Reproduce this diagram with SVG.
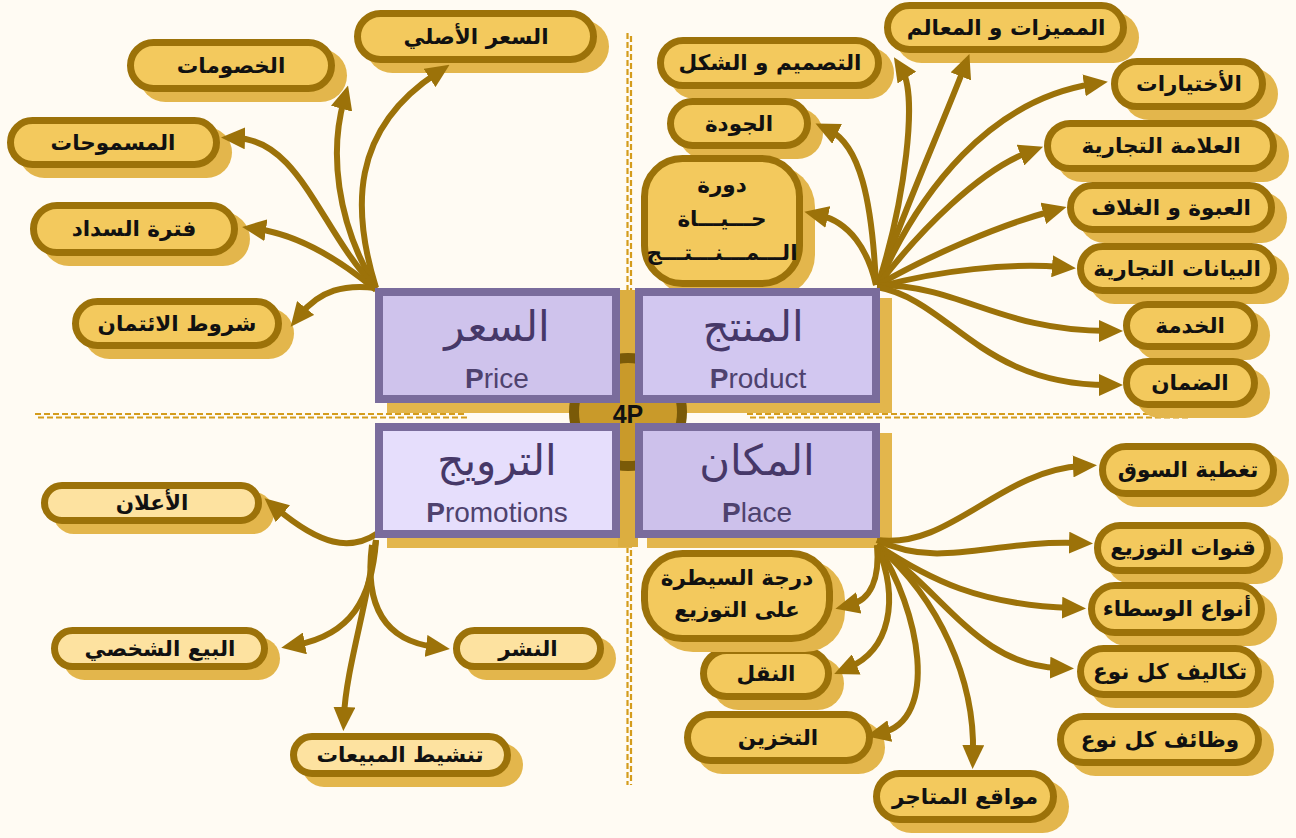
<svg xmlns="http://www.w3.org/2000/svg" width="1296" height="838" viewBox="0 0 1296 838">
<defs>
<style>
.bg{fill:#fffbf3}
.dash{fill:none;stroke:#d49c1c;stroke-width:2.2;stroke-dasharray:6 3}
.sh{fill:#e3b64c}
.pill{fill:#f3c95d;stroke:#9c7209;stroke-width:7}
.pill2{fill:#fde2a0;stroke:#9c7209;stroke-width:7}
.lbl{font-family:"DejaVu Sans",sans-serif;font-weight:bold;font-size:21.5px;fill:#111;text-anchor:middle}
.con{fill:none;stroke:#9c7209;stroke-width:6;marker-end:url(#ah)}
.box{stroke:#7a6c9c;stroke-width:8}
.ar{font-family:"DejaVu Sans",sans-serif;font-size:42px;fill:#463868;text-anchor:middle}
.en{font-family:"Liberation Sans",Arial,sans-serif;font-size:28px;fill:#4e426e;text-anchor:middle}
.b{font-weight:bold}
</style>
<marker id="ah" viewBox="0 0 24 22" refX="9" refY="11" markerWidth="24" markerHeight="22" markerUnits="userSpaceOnUse" orient="auto">
<path d="M0,0 L24,11 L0,22 Z" fill="#9c7209"/>
</marker>
</defs>
<rect class="bg" x="0" y="0" width="1296" height="838"/>

<g id="guides">
<line class="dash" x1="627.5" y1="33" x2="627.5" y2="290"/>
<line class="dash" x1="631" y1="36" x2="631" y2="290"/>
<line class="dash" x1="627.5" y1="538" x2="627.5" y2="785"/>
<line class="dash" x1="631" y1="541" x2="631" y2="785"/>
<line class="dash" x1="35" y1="414" x2="467" y2="414"/>
<line class="dash" x1="38" y1="417.5" x2="467" y2="417.5"/>
<line class="dash" x1="747" y1="414" x2="1185" y2="414"/>
<line class="dash" x1="750" y1="417.5" x2="1188" y2="417.5"/>
</g>

<g id="center">
<rect class="sh" x="387" y="298" width="245" height="115"/>
<rect class="sh" x="647" y="298" width="245" height="115"/>
<rect class="sh" x="387" y="433" width="245" height="115"/>
<rect class="sh" x="647" y="433" width="245" height="115"/>
<rect x="618" y="290" width="20" height="257" fill="#dcae40"/>
<circle cx="628" cy="412" r="54" fill="#c99a2a" stroke="#7a5a08" stroke-width="10"/>
<text x="628" y="423" font-family="Liberation Sans, Arial, sans-serif" font-weight="bold" font-size="25" fill="#111" text-anchor="middle">4P</text>
</g>

<g id="n-price-original"><rect class="sh" x="366" y="20" width="243" height="53" rx="26.5"/><rect class="pill" x="357.5" y="13.5" width="236" height="46" rx="23"/><text class="lbl" x="476" y="44">السعر الأصلي</text></g>
<g id="n-discounts"><rect class="sh" x="139" y="49" width="208" height="53" rx="26.5"/><rect class="pill" x="130.5" y="42.5" width="201" height="46" rx="23"/><text class="lbl" x="231" y="73">الخصومات</text></g>
<g id="n-allowances"><rect class="sh" x="19" y="127" width="213" height="51" rx="25.5"/><rect class="pill" x="10.5" y="120.5" width="206" height="44" rx="22"/><text class="lbl" x="113" y="150">المسموحات</text></g>
<g id="n-payment-period"><rect class="sh" x="42" y="212" width="208" height="54" rx="27"/><rect class="pill" x="33.5" y="205.5" width="201" height="47" rx="23.5"/><text class="lbl" x="134" y="236">فترة السداد</text></g>
<g id="n-credit-terms"><rect class="sh" x="84" y="308" width="210" height="51" rx="25.5"/><rect class="pill" x="75.5" y="301.5" width="203" height="44" rx="22"/><text class="lbl" x="177" y="331">شروط الائتمان</text></g>

<g id="n-features"><rect class="sh" x="896" y="12" width="243" height="51" rx="25.5"/><rect class="pill" x="887.5" y="5.5" width="236" height="44" rx="22"/><text class="lbl" x="1006" y="35">المميزات و المعالم</text></g>
<g id="n-design"><rect class="sh" x="669" y="47" width="225" height="52" rx="26"/><rect class="pill" x="660.5" y="40.5" width="218" height="45" rx="22.5"/><text class="lbl" x="770" y="70">التصميم و الشكل</text></g>
<g id="n-options"><rect class="sh" x="1123" y="68" width="155" height="52" rx="26"/><rect class="pill" x="1114.5" y="61.5" width="148" height="45" rx="22.5"/><text class="lbl" x="1189" y="91">الأختيارات</text></g>
<g id="n-quality"><rect class="sh" x="679" y="108" width="144" height="51" rx="25.5"/><rect class="pill" x="670.5" y="101.5" width="137" height="44" rx="22"/><text class="lbl" x="739" y="131">الجودة</text></g>
<g id="n-brand"><rect class="sh" x="1056" y="130" width="233" height="52" rx="26"/><rect class="pill" x="1047.5" y="123.5" width="226" height="45" rx="22.5"/><text class="lbl" x="1161" y="153">العلامة التجارية</text></g>
<g id="n-lifecycle"><rect class="sh" x="653" y="165" width="162" height="132" rx="42"/><rect class="pill" x="644.5" y="158.5" width="155" height="125" rx="38"/><text class="lbl" x="722" y="192">دورة</text><text class="lbl" x="722" y="226">حـــيـــاة</text><text class="lbl" x="722" y="260">الـــمـــنـــتـــج</text></g>
<g id="n-packaging"><rect class="sh" x="1079" y="192" width="208" height="51" rx="25.5"/><rect class="pill" x="1070.5" y="185.5" width="201" height="44" rx="22"/><text class="lbl" x="1171" y="215">العبوة و الغلاف</text></g>
<g id="n-labeling"><rect class="sh" x="1089" y="253" width="200" height="51" rx="25.5"/><rect class="pill" x="1080.5" y="246.5" width="193" height="44" rx="22"/><text class="lbl" x="1177" y="276">البيانات التجارية</text></g>
<g id="n-service"><rect class="sh" x="1135" y="311" width="135" height="49" rx="24.5"/><rect class="pill" x="1126.5" y="304.5" width="128" height="42" rx="21"/><text class="lbl" x="1190" y="333">الخدمة</text></g>
<g id="n-warranty"><rect class="sh" x="1135" y="368" width="135" height="50" rx="25"/><rect class="pill" x="1126.5" y="361.5" width="128" height="43" rx="21.5"/><text class="lbl" x="1190" y="390">الضمان</text></g>

<g id="n-advertising"><rect class="sh" x="53" y="492" width="221" height="42" rx="21"/><rect class="pill2" x="44.5" y="485.5" width="214" height="35" rx="17.5"/><text class="lbl" x="152" y="510">الأعلان</text></g>
<g id="n-personal-selling"><rect class="sh" x="63" y="637" width="217" height="43" rx="21.5"/><rect class="pill2" x="54.5" y="630.5" width="210" height="36" rx="18"/><text class="lbl" x="160" y="656">البيع الشخصي</text></g>
<g id="n-publicity"><rect class="sh" x="465" y="637" width="151" height="43" rx="21.5"/><rect class="pill2" x="456.5" y="630.5" width="144" height="36" rx="18"/><text class="lbl" x="528" y="656">النشر</text></g>
<g id="n-sales-promotion"><rect class="sh" x="302" y="743" width="221" height="44" rx="22"/><rect class="pill2" x="293.5" y="736.5" width="214" height="37" rx="18.5"/><text class="lbl" x="400" y="762">تنشيط المبيعات</text></g>

<g id="n-coverage"><rect class="sh" x="1111" y="453" width="178" height="54" rx="27"/><rect class="pill" x="1102.5" y="446.5" width="171" height="47" rx="23.5"/><text class="lbl" x="1188" y="477">تغطية السوق</text></g>
<g id="n-channels"><rect class="sh" x="1106" y="532" width="177" height="52" rx="26"/><rect class="pill" x="1097.5" y="525.5" width="170" height="45" rx="22.5"/><text class="lbl" x="1183" y="555">قنوات التوزيع</text></g>
<g id="n-intermediaries"><rect class="sh" x="1100" y="592" width="177" height="54" rx="27"/><rect class="pill" x="1091.5" y="585.5" width="170" height="47" rx="23.5"/><text class="lbl" x="1177" y="616">أنواع الوسطاء</text></g>
<g id="n-costs"><rect class="sh" x="1089" y="655" width="185" height="53" rx="26.5"/><rect class="pill" x="1080.5" y="648.5" width="178" height="46" rx="23"/><text class="lbl" x="1170" y="679">تكاليف كل نوع</text></g>
<g id="n-functions"><rect class="sh" x="1069" y="723" width="205" height="53" rx="26.5"/><rect class="pill" x="1060.5" y="716.5" width="198" height="46" rx="23"/><text class="lbl" x="1160" y="747">وظائف كل نوع</text></g>
<g id="n-locations"><rect class="sh" x="885" y="780" width="184" height="53" rx="26.5"/><rect class="pill" x="876.5" y="773.5" width="177" height="46" rx="23"/><text class="lbl" x="965" y="804">مواقع المتاجر</text></g>
<g id="n-storage"><rect class="sh" x="696" y="721" width="189" height="53" rx="26.5"/><rect class="pill" x="687.5" y="714.5" width="182" height="46" rx="23"/><text class="lbl" x="778" y="745">التخزين</text></g>
<g id="n-transport"><rect class="sh" x="712" y="657" width="132" height="53" rx="26.5"/><rect class="pill" x="703.5" y="650.5" width="125" height="46" rx="23"/><text class="lbl" x="766" y="681">النقل</text></g>
<g id="n-control"><rect class="sh" x="653" y="560" width="192" height="92" rx="40"/><rect class="pill" x="644.5" y="553.5" width="185" height="85" rx="38"/><text class="lbl" x="737" y="585">درجة السيطرة</text><text class="lbl" x="737" y="617">على التوزيع</text></g>

<g id="connectors">
<path class="con" d="M376,288 C352,210 350,130 437,73"/>
<path class="con" d="M376,288 C335,220 330,150 344,100"/>
<path class="con" d="M376,288 C320,230 300,140 236,138"/>
<path class="con" d="M376,290 C340,260 300,235 257,229"/>
<path class="con" d="M376,288 C345,284 320,290 300,315"/>

<path class="con" d="M878,285 C905,200 918,95 902,70"/>
<path class="con" d="M878,285 C900,220 940,130 964,68"/>
<path class="con" d="M878,285 C920,190 990,100 1093,84"/>
<path class="con" d="M878,285 C920,230 980,170 1029,152"/>
<path class="con" d="M878,285 C930,255 1000,225 1052,211"/>
<path class="con" d="M878,287 C940,270 1010,263 1061,267"/>
<path class="con" d="M877,285 C960,285 1000,331 1108,331"/>
<path class="con" d="M877,287 C950,300 980,385 1108,385"/>
<path class="con" d="M876,285 C872,200 860,145 829,130"/>
<path class="con" d="M876,285 C868,250 850,222 819,215"/>

<path class="con" d="M378,533 C350,552 320,545 276,508"/>
<path class="con" d="M376,540 C372,600 350,635 296,645"/>
<path class="con" d="M376,540 C366,610 346,670 344,716"/>
<path class="con" d="M372,545 C365,600 380,640 435,647"/>

<path class="con" d="M877,540 C950,550 1000,470 1082,466"/>
<path class="con" d="M877,540 C940,570 990,540 1078,543"/>
<path class="con" d="M877,545 C930,580 980,605 1071,608"/>
<path class="con" d="M877,545 C950,600 980,665 1059,668"/>
<path class="con" d="M877,545 C940,600 975,680 973,754"/>
<path class="con" d="M877,545 C920,610 940,720 881,733"/>
<path class="con" d="M877,545 C900,600 890,650 848,668"/>
<path class="con" d="M877,545 C880,580 870,600 850,605"/>
</g>

<g id="n-price"><rect class="box" x="379" y="292" width="237" height="107" fill="#cfc3ec"/><text class="ar" x="497" y="341">السعر</text><text class="en" x="497" y="388"><tspan class="b">P</tspan>rice</text></g>
<g id="n-product"><rect class="box" x="639" y="292" width="237" height="107" fill="#d2c7f0"/><text class="ar" x="753" y="341">المنتج</text><text class="en" x="758" y="388"><tspan class="b">P</tspan>roduct</text></g>
<g id="n-promotions"><rect class="box" x="379" y="427" width="237" height="107" fill="#e6defc"/><text class="ar" x="497" y="475">الترويج</text><text class="en" x="497" y="522"><tspan class="b">P</tspan>romotions</text></g>
<g id="n-place"><rect class="box" x="639" y="427" width="237" height="107" fill="#cdc1eb"/><text class="ar" x="757" y="475">المكان</text><text class="en" x="757" y="522"><tspan class="b">P</tspan>lace</text></g>
</svg>
